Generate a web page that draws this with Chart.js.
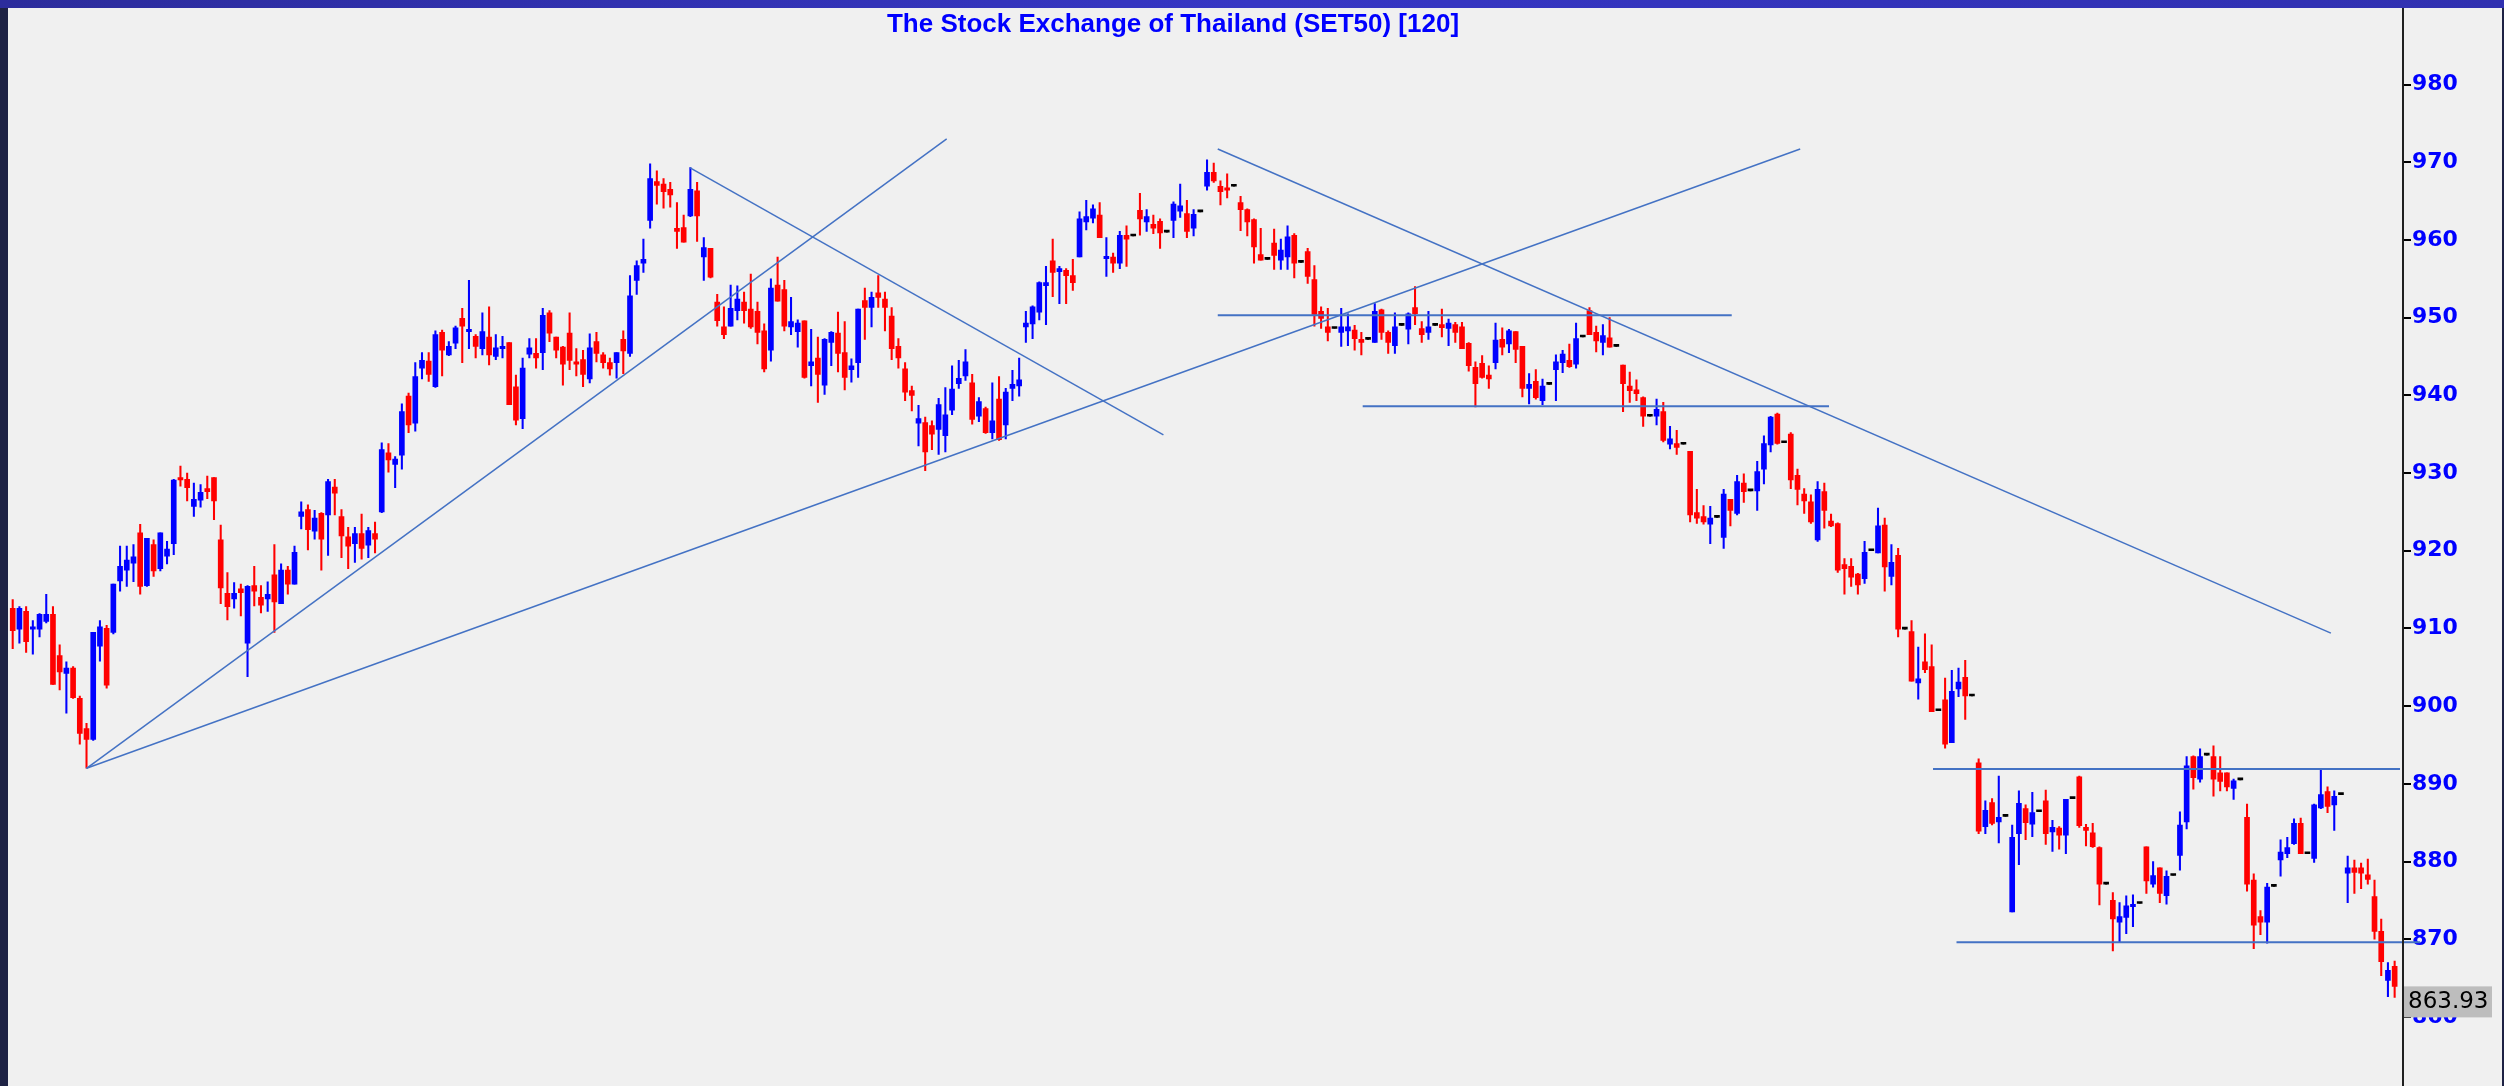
<!DOCTYPE html>
<html>
<head>
<meta charset="utf-8">
<title>SET50</title>
<script src="https://cdn.jsdelivr.net/npm/chart.js@4.4.1/dist/chart.umd.min.js"></script>
<style>
    html, body { margin: 0; padding: 0; background: #1e2244; overflow: hidden; }
    canvas { display: block; }
</style>
</head>
<body>
<canvas id="chart" width="2504" height="1086"></canvas>
<script>
// SET50 daily candles (oldest first)
const opens = [
    912.6, 909.9, 912.2, 909.9, 909.9, 910.9, 911.8, 906.5, 904.2, 904.9,
    901.0, 897.1, 895.7, 907.7, 910.0, 909.5, 916.1, 917.5, 918.4, 922.3,
    915.5, 920.8, 917.7, 919.3, 920.9, 929.4, 929.2, 925.7, 926.5, 928.0,
    929.4, 921.4, 914.5, 913.8, 915.1, 908.1, 915.5, 914.0, 913.8, 916.9,
    913.2, 917.5, 915.7, 924.4, 925.3, 922.5, 924.8, 924.6, 928.2, 924.4,
    921.8, 920.9, 922.2, 920.7, 922.2, 925.0, 932.6, 931.1, 932.3, 939.9,
    936.4, 943.5, 944.4, 941.1, 948.1, 945.2, 946.7, 949.9, 948.2, 947.6,
    946.0, 947.5, 945.0, 946.0, 946.8, 941.1, 937.0, 945.3, 945.4, 945.5,
    950.6, 947.5, 946.2, 948.0, 944.3, 944.6, 942.1, 946.9, 945.2, 944.2,
    944.2, 947.2, 945.4, 954.8, 957.0, 962.5, 967.5, 967.2, 966.5, 961.5,
    961.6, 963.1, 966.3, 957.8, 958.9, 952.0, 948.8, 948.9, 950.9, 952.0,
    951.1, 950.8, 948.3, 945.8, 954.2, 953.6, 948.8, 948.2, 949.6, 943.8,
    944.8, 941.3, 946.8, 948.0, 945.5, 943.3, 944.2, 952.2, 951.3, 953.2,
    952.4, 950.2, 946.3, 943.4, 940.6, 936.4, 936.5, 936.1, 935.6, 934.8,
    938.1, 941.5, 942.5, 941.6, 937.3, 938.3, 935.2, 939.5, 936.2, 940.9,
    941.2, 948.8, 949.2, 950.7, 954.1, 957.3, 955.9, 956.1, 955.4, 957.8,
    962.3, 962.8, 963.2, 957.6, 957.8, 957.0, 960.6, 960.5, 963.8, 962.3,
    962.0, 962.4, 961.0, 962.5, 963.7, 963.4, 961.5, 963.6, 966.9, 968.7,
    966.9, 966.7, 966.9, 964.8, 963.9, 962.6, 958.1, 957.5, 959.6, 957.4,
    957.8, 960.6, 957.1, 958.5, 954.9, 950.8, 948.8, 948.6, 948.1, 948.3,
    948.4, 947.2, 947.2, 946.8, 951.0, 948.1, 946.4, 949.0, 948.5, 951.3,
    948.6, 948.1, 949.0, 949.1, 948.6, 949.1, 948.8, 946.7, 943.6, 944.1,
    942.6, 944.2, 947.2, 946.6, 948.2, 946.3, 940.9, 941.8, 939.3, 941.4,
    943.3, 944.2, 944.5, 944.0, 947.5, 950.9, 948.1, 946.8, 947.4, 946.3,
    943.9, 941.2, 940.7, 939.7, 937.3, 937.3, 937.9, 933.7, 933.8, 933.7,
    932.8, 924.9, 924.4, 923.4, 924.3, 921.7, 926.6, 924.8, 928.7, 927.7,
    927.7, 930.5, 933.6, 937.6, 933.9, 935.0, 929.7, 927.3, 926.3, 921.4,
    927.6, 923.8, 923.5, 918.2, 918.0, 917.0, 916.4, 920.0, 919.7, 923.3,
    916.7, 919.4, 909.9, 909.6, 903.0, 905.7, 905.1, 899.4, 900.8, 895.3,
    902.2, 903.7, 901.3, 892.7, 884.5, 887.6, 885.1, 885.8, 873.5, 883.6,
    886.8, 884.8, 886.4, 887.8, 883.8, 884.3, 883.4, 888.1, 890.9, 884.4,
    883.7, 881.8, 877.1, 875.0, 872.2, 872.8, 874.2, 874.6, 881.9, 877.1,
    879.2, 875.6, 878.2, 880.8, 885.1, 893.5, 890.6, 893.7, 893.5, 891.4,
    891.4, 889.4, 890.5, 885.7, 877.6, 872.9, 872.2, 876.8, 880.2, 881.0,
    882.3, 884.9, 881.0, 880.4, 886.9, 889.0, 887.3, 888.6, 878.5, 879.2,
    879.2, 878.3, 875.5, 871.0, 864.7, 866.5
];
const highs = [
    913.7, 912.8, 912.8, 911.0, 911.9, 914.4, 912.8, 907.9, 905.7, 905.1,
    901.3, 897.8, 909.5, 911.0, 910.4, 915.7, 920.6, 920.6, 920.8, 923.4,
    921.6, 921.4, 922.3, 921.2, 929.2, 930.9, 930.0, 928.7, 928.5, 929.6,
    929.4, 923.3, 917.2, 915.9, 915.7, 915.5, 918.0, 915.5, 916.0, 920.8,
    918.3, 918.0, 920.6, 926.3, 925.9, 925.2, 924.9, 929.2, 929.2, 925.3,
    923.0, 923.0, 924.7, 923.0, 923.7, 933.9, 933.8, 932.1, 938.9, 940.3,
    944.2, 945.5, 945.5, 948.3, 948.4, 946.9, 948.9, 951.2, 954.8, 947.8,
    950.6, 951.4, 947.8, 947.6, 946.8, 942.6, 944.8, 947.3, 947.3, 951.2,
    950.9, 947.5, 946.3, 950.6, 946.0, 945.8, 947.9, 948.1, 945.5, 944.8,
    945.5, 948.3, 955.4, 957.3, 960.1, 969.8, 968.9, 967.9, 967.4, 964.8,
    963.2, 969.3, 967.4, 960.3, 958.9, 953.0, 951.4, 954.2, 954.1, 953.3,
    955.6, 952.0, 949.2, 955.0, 957.8, 954.8, 952.6, 949.7, 949.6, 948.5,
    947.5, 947.3, 948.2, 950.7, 949.5, 944.7, 951.1, 953.8, 953.3, 955.4,
    953.3, 951.3, 947.3, 944.2, 941.2, 938.7, 937.2, 936.7, 939.6, 941.0,
    943.8, 944.5, 945.9, 942.7, 939.7, 938.5, 941.6, 942.4, 940.9, 943.2,
    944.8, 950.8, 951.5, 954.6, 956.6, 960.1, 956.6, 956.3, 957.5, 963.6,
    965.1, 964.5, 964.8, 960.3, 958.3, 961.1, 961.8, 960.5, 966.0, 963.9,
    963.2, 962.7, 961.0, 964.9, 967.2, 965.1, 963.9, 963.6, 970.3, 969.9,
    967.6, 968.5, 966.9, 965.6, 964.0, 962.7, 961.5, 957.5, 961.4, 960.1,
    961.8, 960.8, 957.1, 958.9, 956.7, 951.4, 951.2, 948.6, 951.2, 950.5,
    949.0, 948.1, 947.2, 951.8, 951.1, 948.3, 950.6, 949.0, 950.6, 954.0,
    949.5, 950.8, 949.0, 951.1, 949.8, 949.4, 949.4, 946.8, 944.3, 945.1,
    943.8, 949.3, 948.7, 948.5, 948.2, 946.3, 942.8, 943.3, 942.1, 941.4,
    945.2, 945.8, 946.6, 949.3, 947.5, 951.3, 948.9, 949.1, 950.0, 946.3,
    943.9, 943.0, 942.0, 939.8, 937.3, 939.5, 939.1, 936.0, 935.5, 933.7,
    932.8, 927.9, 925.8, 925.7, 924.3, 927.9, 926.6, 929.7, 929.9, 927.7,
    931.5, 934.8, 937.3, 937.7, 933.9, 935.2, 930.5, 928.0, 927.2, 928.9,
    928.7, 924.7, 923.6, 919.0, 919.0, 917.1, 921.2, 920.0, 925.5, 924.2,
    920.8, 920.3, 909.9, 911.0, 907.6, 909.3, 907.9, 899.4, 903.6, 904.6,
    904.9, 905.9, 901.3, 893.2, 887.8, 888.1, 891.0, 885.8, 884.7, 889.1,
    887.3, 888.9, 886.4, 889.2, 885.3, 884.5, 888.0, 888.1, 891.0, 884.8,
    884.9, 881.9, 877.1, 876.0, 874.7, 875.6, 875.7, 874.6, 881.9, 880.0,
    879.2, 878.8, 878.2, 886.4, 893.5, 893.6, 894.5, 893.7, 894.9, 893.5,
    891.4, 890.6, 890.5, 887.4, 878.4, 873.7, 877.2, 876.8, 882.8, 883.1,
    885.5, 885.6, 881.0, 887.4, 891.9, 889.6, 889.1, 888.6, 880.7, 880.2,
    879.8, 880.3, 877.6, 872.6, 867.0, 867.2
];
const lows = [
    907.4, 908.1, 906.9, 906.7, 908.9, 910.7, 902.8, 902.1, 899.1, 901.0,
    895.1, 892.0, 895.6, 905.8, 902.3, 909.3, 914.8, 915.4, 916.0, 914.4,
    915.4, 916.7, 917.4, 918.3, 919.5, 928.3, 926.4, 924.4, 925.6, 926.7,
    924.0, 913.2, 911.1, 912.6, 911.6, 903.8, 912.9, 912.0, 912.2, 909.5,
    913.2, 914.4, 915.7, 922.8, 920.1, 921.5, 917.5, 919.4, 924.6, 919.1,
    917.7, 918.5, 918.9, 919.1, 919.7, 924.9, 930.1, 928.1, 930.5, 935.2,
    935.4, 942.1, 941.8, 941.0, 942.5, 945.1, 946.0, 944.2, 946.0, 944.8,
    945.2, 943.9, 944.6, 944.8, 938.8, 936.2, 935.7, 944.8, 943.5, 943.3,
    946.9, 944.8, 941.3, 943.3, 942.5, 941.1, 941.6, 944.3, 943.5, 942.6,
    942.2, 942.8, 945.0, 953.0, 955.8, 961.5, 964.6, 964.1, 964.2, 958.9,
    959.7, 963.0, 959.8, 954.8, 955.1, 948.9, 947.3, 948.9, 949.7, 949.3,
    948.6, 946.6, 943.0, 944.4, 952.1, 948.3, 947.8, 946.2, 942.2, 941.2,
    939.1, 940.1, 943.8, 943.0, 940.7, 941.7, 942.3, 947.2, 948.8, 951.3,
    948.3, 944.6, 943.5, 939.3, 938.0, 933.5, 930.3, 933.0, 932.4, 932.7,
    937.5, 940.9, 941.9, 936.3, 936.6, 935.1, 934.4, 934.2, 934.4, 939.3,
    939.9, 946.8, 947.3, 949.7, 949.1, 952.7, 951.8, 951.8, 953.5, 957.8,
    961.3, 962.2, 960.3, 955.3, 955.8, 956.3, 956.6, 960.5, 960.6, 961.1,
    960.8, 958.9, 961.0, 960.3, 962.9, 960.3, 960.5, 963.6, 966.4, 967.4,
    964.5, 965.4, 966.9, 961.2, 960.5, 957.0, 957.4, 957.5, 956.2, 956.2,
    956.2, 955.1, 957.1, 954.4, 948.9, 948.6, 947.0, 948.6, 946.3, 946.4,
    945.8, 945.2, 947.2, 946.8, 947.2, 945.4, 945.4, 949.0, 946.6, 949.1,
    946.8, 947.2, 949.0, 947.5, 946.4, 946.8, 946.0, 943.1, 938.5, 942.2,
    940.9, 943.4, 945.2, 945.5, 944.2, 939.8, 938.9, 939.5, 938.8, 941.4,
    939.3, 942.9, 943.6, 943.5, 947.5, 947.8, 945.6, 945.2, 946.2, 946.3,
    937.9, 939.1, 939.3, 936.0, 937.3, 936.2, 934.0, 933.1, 932.4, 933.7,
    923.7, 923.5, 923.4, 920.9, 924.3, 920.3, 923.2, 924.6, 926.2, 927.7,
    925.2, 928.6, 932.7, 933.7, 933.9, 928.0, 925.9, 924.8, 923.5, 921.2,
    922.9, 923.1, 917.2, 914.4, 915.4, 914.4, 915.8, 920.0, 919.7, 914.8,
    915.6, 908.9, 909.9, 903.2, 900.9, 904.3, 899.3, 899.4, 894.6, 895.3,
    901.2, 898.3, 901.3, 883.6, 883.6, 884.7, 882.4, 885.8, 873.5, 879.6,
    882.8, 883.2, 886.4, 882.2, 881.3, 881.6, 881.0, 888.1, 884.4, 882.0,
    881.8, 874.4, 877.1, 868.5, 869.7, 870.7, 871.6, 874.6, 875.9, 876.7,
    874.7, 874.5, 878.2, 878.9, 884.2, 889.3, 890.2, 893.7, 888.4, 889.1,
    889.1, 888.0, 890.5, 876.2, 868.8, 870.6, 869.5, 876.8, 878.1, 880.5,
    882.2, 881.0, 881.0, 879.9, 886.8, 886.3, 884.0, 888.6, 874.7, 875.9,
    876.5, 877.1, 870.0, 865.3, 862.6, 862.5
];
const closes = [
    909.7, 912.6, 908.3, 910.2, 911.8, 911.8, 902.8, 904.4, 904.9, 901.1,
    896.5, 895.7, 909.5, 910.2, 902.7, 915.7, 918.0, 918.8, 919.2, 915.4,
    921.6, 917.4, 922.3, 920.2, 929.1, 929.1, 928.1, 926.6, 927.5, 927.6,
    926.4, 915.2, 912.8, 914.5, 914.6, 915.4, 914.8, 913.0, 914.4, 913.4,
    917.5, 915.7, 919.8, 925.0, 922.7, 924.2, 921.5, 928.9, 927.4, 921.9,
    920.6, 922.2, 920.3, 922.6, 921.5, 933.0, 931.7, 931.8, 937.9, 936.2,
    942.4, 944.5, 942.7, 947.8, 945.8, 946.3, 948.7, 948.9, 948.5, 946.3,
    948.2, 945.2, 946.1, 946.3, 938.8, 936.8, 943.5, 946.1, 944.8, 950.3,
    948.0, 945.8, 944.0, 944.5, 944.0, 942.7, 946.1, 945.4, 944.2, 943.4,
    945.5, 945.7, 952.8, 956.7, 957.5, 967.9, 967.0, 966.2, 965.8, 961.1,
    959.7, 966.5, 963.1, 959.0, 955.2, 949.6, 947.8, 951.2, 952.4, 950.9,
    948.8, 948.1, 943.4, 953.8, 952.1, 948.9, 949.5, 949.3, 942.3, 944.3,
    942.7, 947.2, 948.1, 945.4, 942.3, 943.8, 951.1, 951.3, 952.6, 952.6,
    951.3, 946.0, 944.8, 940.4, 940.0, 937.0, 932.7, 935.0, 938.8, 937.5,
    940.8, 942.2, 944.3, 936.9, 939.2, 935.2, 936.7, 934.3, 940.4, 941.4,
    942.0, 949.3, 951.4, 954.5, 954.5, 955.8, 956.3, 955.4, 954.5, 962.7,
    963.0, 964.0, 960.3, 957.9, 957.0, 960.6, 960.1, 960.5, 962.7, 963.0,
    961.5, 960.9, 961.0, 964.6, 964.4, 961.1, 963.3, 963.6, 968.7, 967.6,
    966.2, 966.4, 966.9, 963.9, 962.3, 959.1, 957.4, 957.5, 958.0, 958.7,
    960.4, 957.0, 957.1, 955.3, 950.4, 949.9, 948.1, 948.6, 948.8, 948.8,
    947.3, 946.8, 947.2, 950.8, 948.1, 946.8, 948.8, 949.0, 950.5, 950.5,
    947.8, 948.8, 949.0, 948.7, 949.3, 948.1, 946.0, 943.8, 941.5, 942.3,
    942.1, 947.1, 946.2, 948.3, 945.9, 940.9, 941.4, 939.7, 941.2, 941.4,
    944.3, 945.3, 943.7, 947.3, 947.5, 947.8, 947.0, 947.7, 946.2, 946.3,
    941.5, 940.6, 940.2, 937.3, 937.3, 938.2, 934.2, 934.4, 933.3, 933.7,
    924.6, 924.2, 923.7, 924.2, 924.3, 927.3, 925.2, 928.9, 927.6, 927.7,
    930.2, 933.8, 937.2, 933.8, 933.9, 929.1, 927.9, 926.4, 923.7, 927.9,
    925.2, 923.2, 917.5, 917.7, 916.6, 915.6, 919.8, 920.0, 923.2, 917.9,
    918.5, 909.9, 909.9, 903.2, 903.5, 904.7, 899.3, 899.4, 895.1, 901.9,
    903.1, 901.3, 901.3, 883.9, 886.6, 884.9, 885.7, 885.8, 883.1, 887.5,
    885.0, 886.3, 886.4, 883.6, 884.4, 883.4, 888.0, 888.1, 884.6, 884.0,
    881.9, 877.1, 877.1, 872.6, 872.9, 874.3, 874.5, 874.6, 877.5, 878.2,
    875.9, 878.1, 878.2, 884.7, 892.3, 890.8, 893.5, 893.7, 890.6, 890.3,
    889.6, 890.4, 890.5, 877.1, 871.8, 872.2, 876.7, 876.8, 881.2, 881.8,
    884.9, 881.0, 881.0, 887.3, 888.6, 887.1, 888.4, 888.6, 879.2, 878.6,
    878.5, 877.7, 871.0, 867.1, 866.0, 863.93
];

// price ticks on the right
const yTicks = [980, 970, 960, 950, 940, 930, 920, 910, 900, 890, 880, 870, 860];

// trend lines: [startCandle, startPrice, endCandle, endPrice] (candle index from 0)
const trendLines = [
    [11, 892.0, 139.2, 973.0],
    [11, 892.0, 266.4, 971.7],
    [100.9, 969.3, 171.5, 934.9],
    [179.6, 971.7, 345.5, 909.4],
    [179.6, 950.3, 256.2, 950.3],
    [201.2, 938.6, 270.7, 938.6],
    [286.2, 891.9, 355.8, 891.9],
    [289.7, 869.6, 358.8, 869.6]
];

const titleText = 'The Stock Exchange of Thailand (SET50) [120]';
const lastPrice = closes[closes.length - 1];

const UP = '#0000ff';
const DOWN = '#ff0000';
const FLAT = '#000000';
const AXIS_X = 2403;

function candleColor(i) {
    if (closes[i] > opens[i]) return UP;
    if (closes[i] < opens[i]) return DOWN;
    return FLAT;
}

const labels = opens.map((_, i) => String(i + 1));
const colors = opens.map((_, i) => candleColor(i));
const wicks = lows.map((l, i) => [l, highs[i]]);
const bodies = opens.map((o, i) => [o, closes[i]]);

const lineSets = trendLines.map(t => ({
    type: 'line',
    xAxisID: 'xl',
    data: [{ x: t[0], y: t[1] }, { x: t[2], y: t[3] }],
    borderColor: '#4472c4',
    borderWidth: t[1] === t[3] ? 2 : 1.5,
    pointRadius: 0,
    fill: false,
    clip: false,
    order: 0
}));

const framePlugin = {
    id: 'frame',
    beforeDraw(chart) {
        const c = chart.ctx;
        c.save();
        c.fillStyle = '#f0f0f0';
        c.fillRect(0, 0, chart.width, chart.height);
        c.restore();
    },
    afterDraw(chart) {
        const c = chart.ctx;
        const y = chart.scales.y;
        c.save();

        // axis line and tick marks
        c.fillStyle = '#202020';
        c.fillRect(AXIS_X - 1, 0, 2, chart.height);
        c.fillStyle = '#000000';
        yTicks.forEach(v => {
            const py = Math.round(y.getPixelForValue(v));
            c.fillRect(AXIS_X + 1, py - 1, 7, 2);
        });

        // last price box
        const py = y.getPixelForValue(lastPrice);
        c.fillStyle = '#bdbdbd';
        c.fillRect(AXIS_X + 1, py, 88, 31);
        c.fillStyle = '#000000';
        c.font = '23px "DejaVu Sans", sans-serif';
        c.textAlign = 'left';
        c.textBaseline = 'middle';
        c.fillText(lastPrice.toFixed(2), AXIS_X + 5, py + 16);

        // window frame
        c.fillStyle = '#1e2244';
        c.fillRect(0, 0, 8, chart.height);
        c.fillRect(chart.width - 2, 0, 2, chart.height);
        const g = c.createLinearGradient(0, 0, chart.width, 0);
        g.addColorStop(0, '#2c2c9c');
        g.addColorStop(0.5, '#3636c4');
        g.addColorStop(1, '#3030b0');
        c.fillStyle = g;
        c.fillRect(0, 0, chart.width, 8);

        // title
        c.fillStyle = '#0000ff';
        c.font = 'bold 26px "Liberation Sans", Arial, sans-serif';
        c.textAlign = 'center';
        c.textBaseline = 'alphabetic';
        c.fillText(titleText, 1173, 32);
        c.restore();
    }
};

const ctx = document.getElementById('chart').getContext('2d');
const chart = new Chart(ctx, {
    type: 'bar',
    data: {
        labels: labels,
        datasets: [
            ...lineSets,
            {
                label: 'body',
                data: bodies,
                backgroundColor: colors,
                barThickness: 5,
                minBarLength: 2,
                grouped: false,
                order: 1
            },
            {
                label: 'wick',
                data: wicks,
                backgroundColor: colors,
                barThickness: 1.4,
                grouped: false,
                order: 2
            }
        ]
    },
    options: {
        responsive: false,
        animation: false,
        devicePixelRatio: 1,
        layout: { padding: { left: 9.35, right: 0, top: 0, bottom: 0 } },
        plugins: {
            legend: { display: false },
            tooltip: { enabled: false },
            title: { display: false }
        },
        scales: {
            x: {
                type: 'category',
                display: false,
                offset: true
            },
            xl: {
                type: 'linear',
                position: 'bottom',
                display: false,
                offset: false,
                min: -0.5,
                max: labels.length - 0.5
            },
            y: {
                position: 'right',
                min: 851.11,
                max: 990.875,
                afterFit(scale) {
                    scale.width = 106;
                    scale.paddingTop = 0;
                    scale.paddingBottom = 0;
                },
                grid: { display: false, drawTicks: false },
                border: { display: false },
                ticks: {
                    stepSize: 10,
                    includeBounds: false,
                    autoSkip: false,
                    padding: 14,
                    color: '#0000ff',
                    font: { family: 'DejaVu Sans', weight: 'bold', size: 22 },
                    callback: v => (yTicks.includes(v) ? String(v) : '')
                }
            }
        }
    },
    plugins: [framePlugin]
});
</script>
</body>
</html>
